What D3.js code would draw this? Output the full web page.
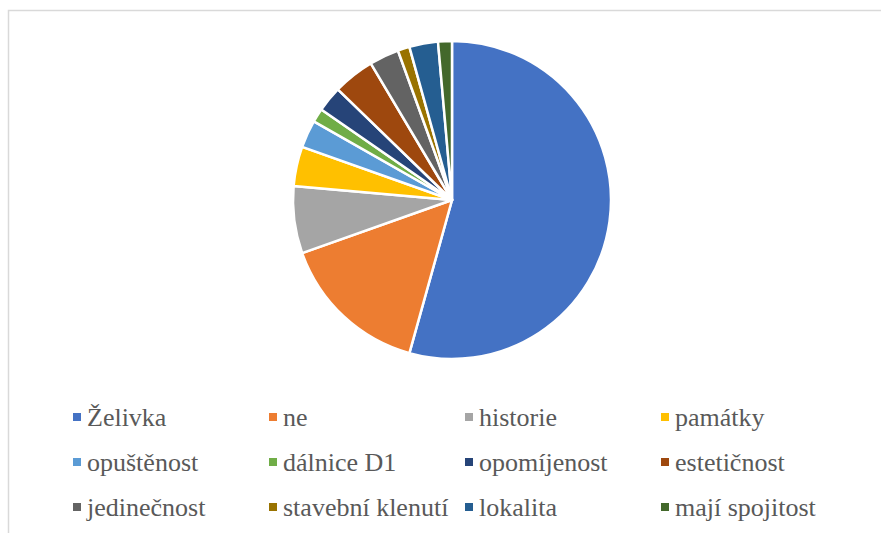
<!DOCTYPE html>
<html>
<head>
<meta charset="utf-8">
<script src="https://cdn.jsdelivr.net/npm/d3@7"></script>
</head>
<body>
<svg id="chart" width="881" height="533"></svg>
<script>
// categories and their shares (%)
const categories = ["Želivka", "ne", "historie", "památky", "opuštěnost", "dálnice D1",
    "opomíjenost", "estetičnost", "jedinečnost", "stavební klenutí", "lokalita", "mají spojitost"];
const values = [54.1, 15.2, 6.8, 4.0, 2.8, 1.4, 2.6, 4.2, 3.0, 1.2, 2.9, 1.4];
const colors = ["#4472C4", "#ED7D31", "#A5A5A5", "#FFC000", "#5B9BD5", "#70AD47",
    "#264478", "#9E480E", "#636363", "#997300", "#255E91", "#43682B"];

const data = categories.map((c, i) => ({ name: c, value: values[i], color: colors[i] }));

d3.select("body").style("margin", "0px");

const svg = d3.select("#chart")
    .style("display", "block")
    .attr("font-family", "Liberation Serif");

// chart frame
svg.append("rect")
    .attr("x", 8.5)
    .attr("y", 10.5)
    .attr("width", 900)
    .attr("height", 600)
    .attr("fill", "#fff")
    .attr("stroke", "#D9D9D9")
    .attr("stroke-width", 1.5);

const cx = 452, cy = 200, radius = 159;

const pie = d3.pie()
    .sort(null)
    .value(d => d.value);

const arc = d3.arc()
    .innerRadius(0)
    .outerRadius(radius);

svg.append("g")
    .attr("transform", `translate(${cx},${cy})`)
    .selectAll("path")
    .data(pie(data))
    .enter()
    .append("path")
    .attr("d", arc)
    .attr("fill", d => d.data.color)
    .attr("stroke", "#fff")
    .attr("stroke-width", 2.5)
    .attr("stroke-linejoin", "round");

// legend, 4 columns x 3 rows
const colX = d3.scalePoint().domain(d3.range(4)).range([73, 661]);
const rowY = d3.scalePoint().domain(d3.range(3)).range([426, 516]);

const legend = svg.append("g")
    .selectAll("g")
    .data(data)
    .enter()
    .append("g")
    .attr("transform", (d, i) => `translate(${colX(i % 4)},${rowY(Math.floor(i / 4))})`);

legend.append("rect")
    .attr("x", 0)
    .attr("y", -13)
    .attr("width", 8)
    .attr("height", 8)
    .attr("fill", d => d.color);

legend.append("text")
    .attr("x", 14)
    .attr("y", 0)
    .attr("font-size", 26)
    .attr("fill", "#595959")
    .style("font-family", "Liberation Serif")
    .text(d => d.name);
</script>
</body>
</html>
